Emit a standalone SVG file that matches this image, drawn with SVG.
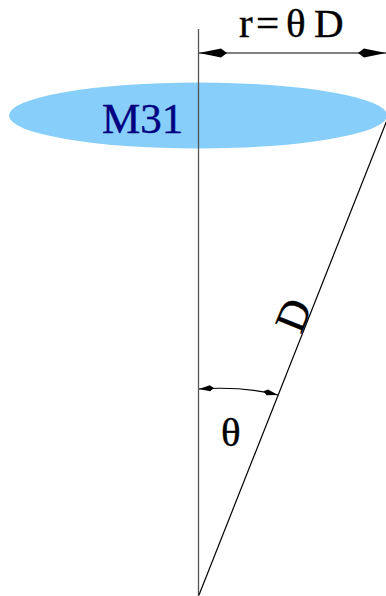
<svg xmlns="http://www.w3.org/2000/svg" width="386" height="596" viewBox="0 0 386 596">
<style>
.lbl{font-family:"Liberation Serif","Times New Roman",serif;fill:#000;stroke:#000;stroke-width:0.4}
.navy{fill:#000080;stroke:#000080}
.ln{stroke:#000;stroke-width:1.2;fill:none}
.axis{stroke:#555;stroke-width:1.3;fill:none}
</style>
<defs>
<marker id="big" markerUnits="userSpaceOnUse" markerWidth="30" markerHeight="12" viewBox="0 -6 30 12" refX="28" refY="0" orient="auto-start-reverse">
<path d="M28,0 L6,-4.5 L0,0 L6,4.5 Z" fill="#000"/>
</marker>
<marker id="small" markerUnits="userSpaceOnUse" markerWidth="18" markerHeight="8" viewBox="0 -4 18 8" refX="15" refY="0" orient="auto-start-reverse">
<path d="M15,0 L4,-3 L0,0 L4,3 Z" fill="#000"/>
</marker>
</defs>
<g id="m31">
<ellipse cx="198" cy="115.5" rx="189" ry="33" fill="#87CEFA"/>
<text class="lbl navy" x="102" y="133" font-size="43">M31</text>
</g>
<g id="connectors">
<line class="axis" x1="198.5" y1="29" x2="198.5" y2="596"/>
<line class="ln" x1="199" y1="595" x2="387" y2="120"/>
<path class="ln" d="M199,53 L386,53" marker-start="url(#big)" marker-end="url(#big)"/>
<path class="ln" d="M199,389 Q242,386 278,395" marker-start="url(#small)" marker-end="url(#small)"/>
</g>
<g id="label-r">
<text class="lbl" font-size="41" x="239 256 286 314" y="37">r=θD</text>
</g>
<g id="label-theta">
<text class="lbl" font-size="41" x="221" y="446">θ</text>
</g>
<g id="label-D">
<text class="lbl" font-size="43" transform="translate(301,335) rotate(-68)">D</text>
</g>
</svg>
